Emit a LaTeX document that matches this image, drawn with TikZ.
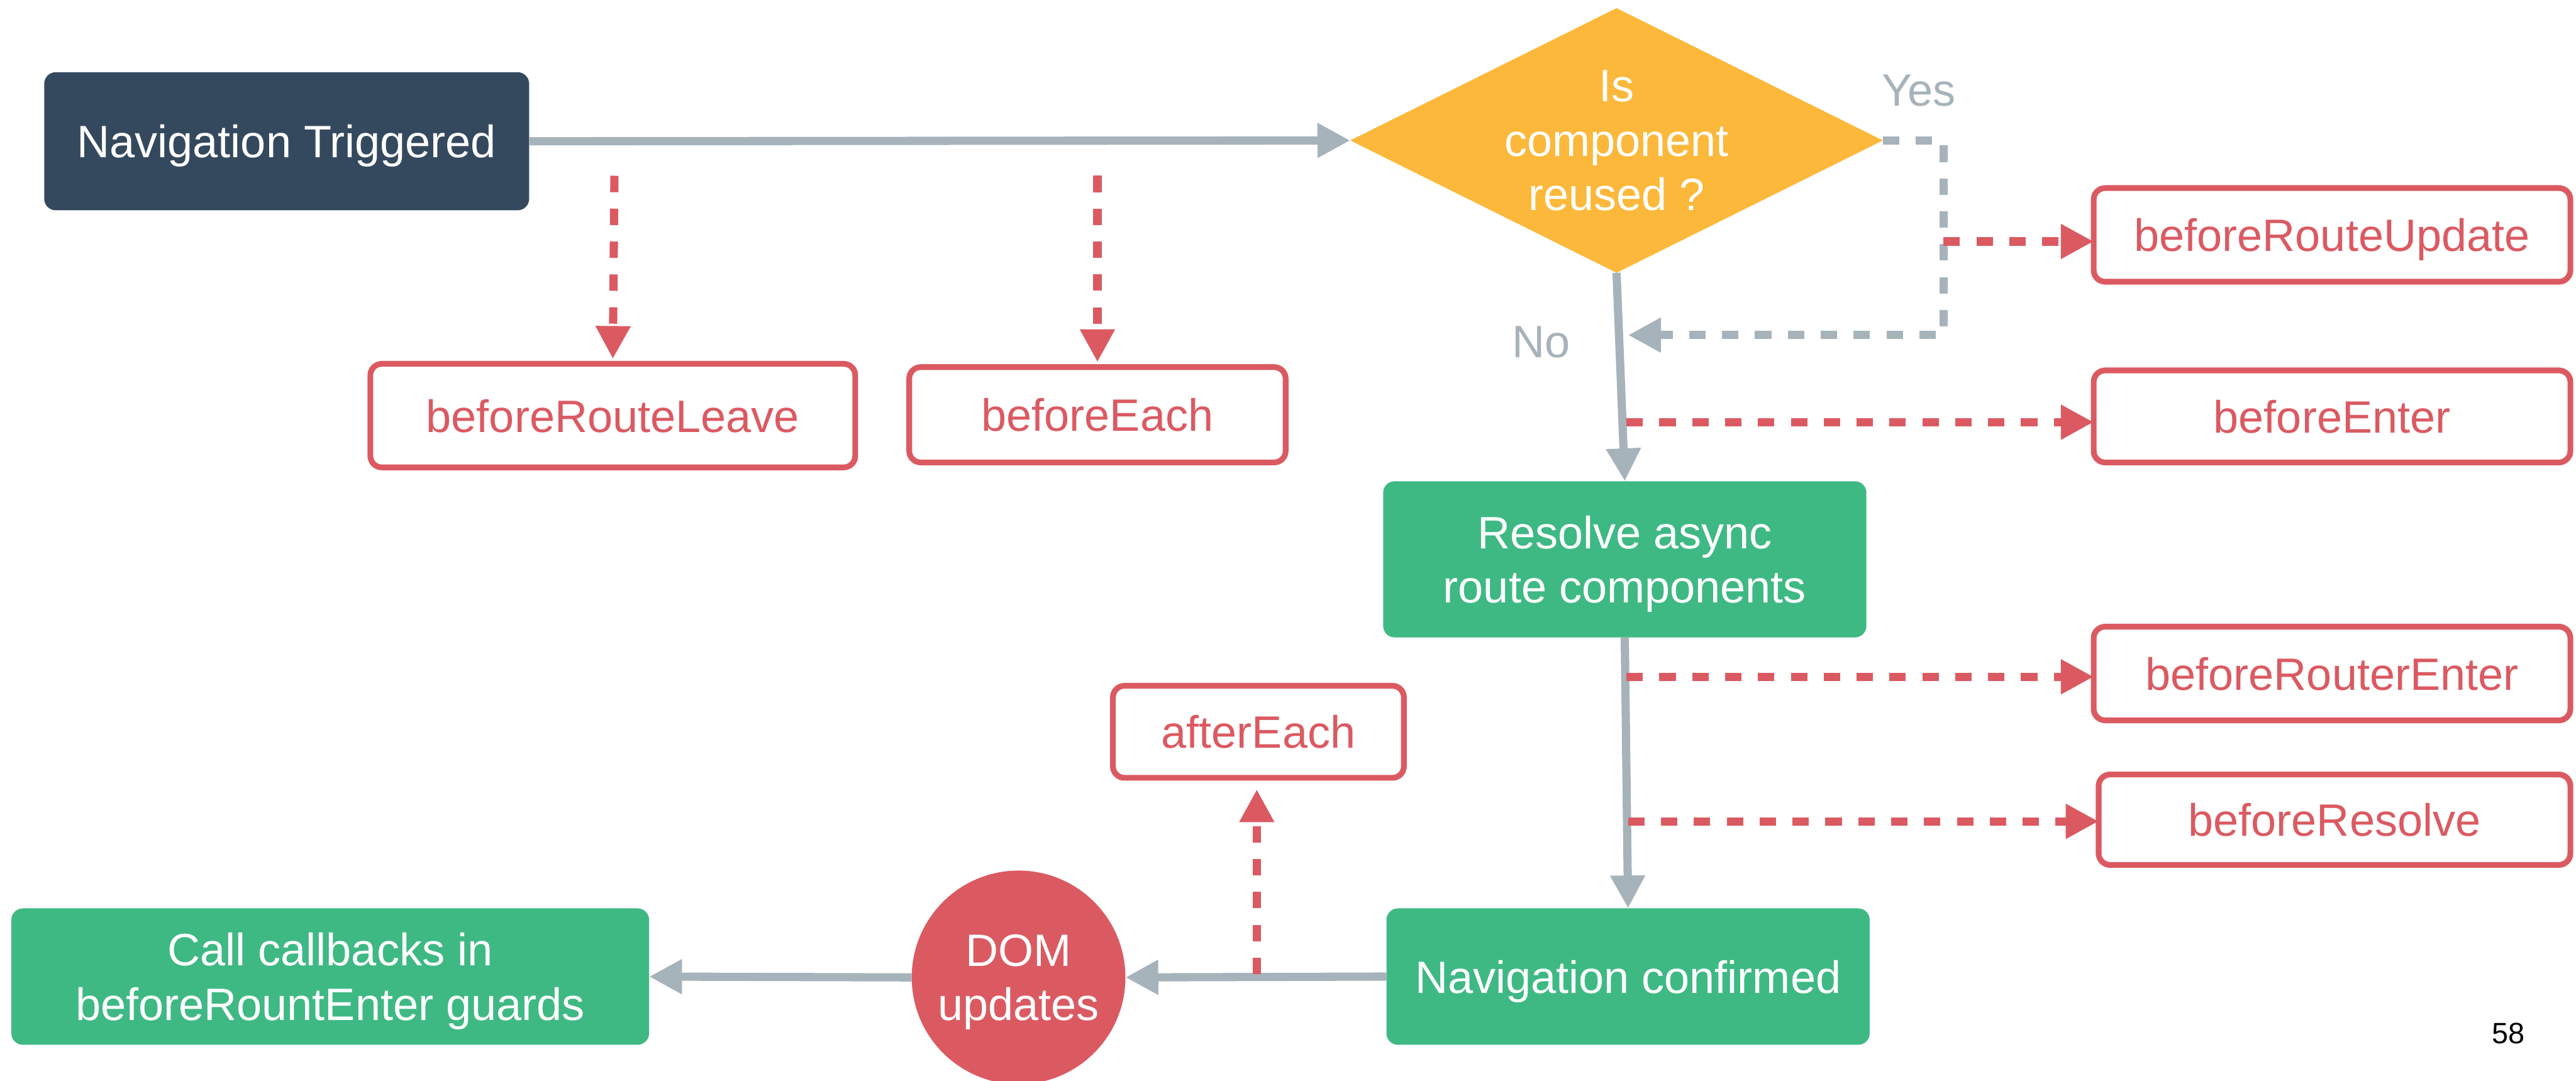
\documentclass[tikz,border=0pt]{standalone}
\usepackage{fontspec}
\setmainfont{Liberation Sans}
\usetikzlibrary{arrows.meta,shapes.geometric}

\definecolor{navdark}{HTML}{35495E}
\definecolor{vuegreen}{HTML}{3FB984}
\definecolor{hookred}{HTML}{DB5A62}
\definecolor{decyellow}{HTML}{FBB83A}
\definecolor{flowgray}{HTML}{A6B3BA}

\tikzset{
  x=0.01cm, y=-0.01cm,
  every node/.style={outer sep=0pt, text depth=0pt, font=\fontsize{7.85pt}{9.4pt}\selectfont},
  solidbox/.style={rectangle, rounded corners=0.07cm, text=white, align=center, inner sep=0pt},
  darkbox/.style={solidbox, fill=navdark},
  greenbox/.style={solidbox, fill=vuegreen},
  hookbox/.style={rectangle, rounded corners=0.07cm, draw=hookred, line width=0.035cm,
    fill=white, text=hookred, inner sep=0pt},
  decision/.style={diamond, fill=decyellow, inner sep=0pt},
  domcircle/.style={circle, fill=hookred, text=white, align=center, inner sep=0pt,
    minimum size=1.30cm},
  tipshape/.style={-{Triangle[length=0.2cm, width=0.2cm]}},
  flow/.style={draw=flowgray, line width=0.05cm, tipshape},
  flowdash/.style={flow, dash pattern=on 0.1cm off 0.1cm},
  hookdash/.style={draw=hookred, line width=0.05cm, tipshape,
    dash pattern=on 0.1cm off 0.1cm},
  branchlabel/.style={text=flowgray},
}

\begin{document}
\begin{tikzpicture}
\useasboundingbox (0,0) rectangle (1568,658);

% main flow nodes
\node[darkbox, minimum width=2.95cm, minimum height=0.84cm] (nt) at (174.5,86) {Navigation Triggered};
\node[decision, minimum width=3.24cm, minimum height=1.61cm] (dia) at (984,85.5) {};
\node[text=white, align=center] (diatext) at (dia.center) {Is\\component\\reused ?};
\node[greenbox, minimum width=2.94cm, minimum height=0.95cm] (resolve) at (989,340.5) {Resolve async\\route components};
\node[greenbox, minimum width=2.94cm, minimum height=0.83cm] (navconf) at (991,594.5) {Navigation confirmed};
\node[domcircle] (dom) at (620,595) {DOM\\updates};
\node[greenbox, minimum width=3.88cm, minimum height=0.83cm] (callcb) at (201,594.5) {Call callbacks in\\beforeRountEnter guards};

% navigation guards
\node[hookbox, minimum width=2.95cm, minimum height=0.63cm] (brleave) at (373,253) {beforeRouteLeave};
\node[hookbox, minimum width=2.29cm, minimum height=0.58cm] (beach) at (668,252.5) {beforeEach};
\node[hookbox, minimum width=2.90cm, minimum height=0.57cm] (rupd) at (1419.5,143) {beforeRouteUpdate};
\node[hookbox, minimum width=2.90cm, minimum height=0.56cm] (benter) at (1419.5,253.5) {beforeEnter};
\node[hookbox, minimum width=2.90cm, minimum height=0.57cm] (rtrenter) at (1419.5,410) {beforeRouterEnter};
\node[hookbox, minimum width=2.87cm, minimum height=0.55cm] (bresolve) at (1421,499) {beforeResolve};
\node[hookbox, minimum width=1.77cm, minimum height=0.56cm] (aftereach) at (766,445.5) {afterEach};

% branch labels and page number
\node[branchlabel] (yes) at (1168,55) {Yes};
\node[branchlabel] (no) at (938,208) {No};
\node[font=\fontsize{5.1pt}{6pt}\selectfont] (pagenum) at (1527,629) {58};

% free ends of the guard connectors
\coordinate (leaveStart) at (374,107);
\coordinate (eachStart) at (668,107);
\coordinate (yesBend) at (1183,204);
\coordinate (noJoin) at (991,204);
\coordinate (updStart) at (1183,147);
\coordinate (enterStart) at (990,257);
\coordinate (rtrStart) at (990,412);
\coordinate (resStart) at (991,500);
\coordinate (afterStart) at (765,593);

% main flow
\draw[flow] (nt.east) -- (dia.west);
\draw[flow] (dia.south) -- (resolve.north);
\draw[flow] (resolve.south) -- (navconf.north);
\draw[flow] (navconf.west) -- (dom.east);
\draw[flow] (dom.west) -- (callcb.east);

% "Yes" branch rejoining the main line
\draw[flowdash] (dia.east) -| (yesBend) -- (noJoin);

% guard connectors
\draw[hookdash, shorten >=0.03cm] (leaveStart) -- (brleave.north);
\draw[hookdash, shorten >=0.03cm] (eachStart) -- (beach.north);
\draw[hookdash] (updStart) -- (updStart -| rupd.west);
\draw[hookdash] (enterStart) -- (enterStart -| benter.west);
\draw[hookdash] (rtrStart) -- (rtrStart -| rtrenter.west);
\draw[hookdash] (resStart) -- (resStart -| bresolve.west);
\draw[hookdash, shorten >=0.07cm] (afterStart) -- (afterStart |- aftereach.south);
\end{tikzpicture}
\end{document}
